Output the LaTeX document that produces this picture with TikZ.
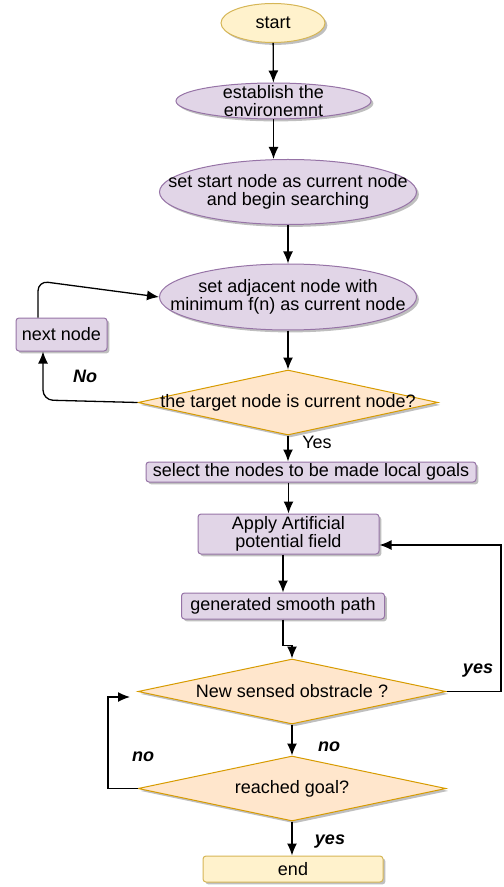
\documentclass[tikz,border=0pt]{standalone}
\usepackage{fontspec}
\setmainfont{Liberation Sans}
\usetikzlibrary{shapes.geometric,shadows,arrows.meta}
\definecolor{lilacfill}{RGB}{225,213,231}
\definecolor{lilacline}{RGB}{150,115,166}
\definecolor{creamfill}{RGB}{255,242,204}
\definecolor{creamline}{RGB}{214,182,86}
\definecolor{peachfill}{RGB}{255,230,204}
\definecolor{peachline}{RGB}{215,155,0}

\begin{document}
\begin{tikzpicture}[x=0.5pt,y=-0.5pt,
    font=\fontsize{9}{9.3}\selectfont,
    shade/.style={drop shadow={shadow xshift=1.2pt,shadow yshift=-1.2pt,opacity=0.25,fill=black}},
    oval/.style={ellipse,draw=lilacline,fill=lilacfill,line width=0.5pt,shade,
        inner xsep=-40pt,inner ysep=-4pt,align=center},
    box/.style={rectangle,rounded corners=1.5pt,draw=lilacline,fill=lilacfill,line width=0.5pt,shade,
        inner sep=0pt,align=center},
    test/.style={diamond,aspect=4.6,draw=peachline,fill=peachfill,line width=0.5pt,shade,
        inner xsep=-40pt,inner ysep=0pt,minimum width=154pt,minimum height=32.5pt},
    tag/.style={font=\fontsize{9}{9.3}\selectfont\bfseries\itshape},
    link/.style={line width=0.65pt,->,>={Latex[length=6pt,width=5pt]}}]
      \useasboundingbox (0,0) rectangle (503,887);

            % main column
            \node[oval,draw=creamline,fill=creamfill,minimum width=52pt,minimum height=19.5pt] (start) at (273,23) {start};
            \node[oval,minimum width=97.5pt,minimum height=18pt] (establish) at (273.5,101) {establish the\\environemnt};
            \node[oval,minimum width=128.5pt,minimum height=32.5pt] (setstart) at (288,192) {set start node as current node\\and begin searching};
            \node[oval,minimum width=128.5pt,minimum height=33pt] (setadj) at (288,297) {set adjacent node with\\minimum f(n) as current node};
            \node[box,minimum width=45.5pt,minimum height=16.5pt] (nextnode) at (61.5,334.5) {next node};
            \node[test,minimum width=150pt] (target) at (288,402.5) {the target node is current node?};
            \node[box,minimum width=165pt,minimum height=10pt] (select) at (311,472) {select the nodes to be made local goals};
            \node[box,minimum width=90.5pt,minimum height=20pt] (apply) at (288.5,534) {Apply Artificial\\potential field};
            \node[box,minimum width=101.5pt,minimum height=13pt] (smooth) at (283,606) {generated smooth path};
            \node[test] (obstacle) at (292,691.5) {New sensed obstracle ?};
            \node[test] (goal) at (292,788.5) {reached goal?};
            \node[box,draw=creamline,fill=creamfill,minimum width=90pt,minimum height=13pt] (finish) at (293,869) {end};

            % labels
            \node[tag] (nolabel) at (85,376) {No};
            \node (yeslabel) at (317,442) {Yes};
            \node[tag] (obstacleyes) at (478,671) {yes};
            \node[tag] (obstacleno) at (329,747) {no};
            \node[tag] (goalno) at (143,757) {no};
            \node[tag] (goalyes) at (330,842) {yes};

            \coordinate (looptop) at (38,281);
            \coordinate (nocorner) at (43,400);
            \coordinate (rightturn) at (501,545);
            \coordinate (noback) at (108,697);
            \coordinate (nohead) at (130,697);

            \draw[link] (start) -- (establish);
            \draw[link] (establish.south) -- (establish.south |- setstart.north);
            \draw[link] (setstart) -- (setadj);
            \draw[link] (setadj) -- (target);
            \draw[link] (target.south) -- (target.south |- select.north);
            \draw[link] (apply.north |- select.south) -- (apply.north);
            \draw[link] (apply.south -| smooth.north) -- (smooth.north);
            \draw[link] (smooth.south) -- ++(0,26) -| (obstacle.north);
            \draw[link] (obstacle) -- (goal);
            \draw[link] (goal.south) -- (goal.south |- finish.north);

            % loops back
            \draw[link,rounded corners=5pt] (target.west) -- (nocorner) -- (nextnode.south -| nocorner);
            \draw[link,rounded corners=5pt] (nextnode.north -| looptop) -- (looptop) -- (setadj.west);
            \draw[link] (obstacle.east) -| (rightturn) -- (rightturn -| apply.east);
            \draw[link] (goal.west) -| (noback) -- (nohead);
        \end{tikzpicture}
\end{document}
